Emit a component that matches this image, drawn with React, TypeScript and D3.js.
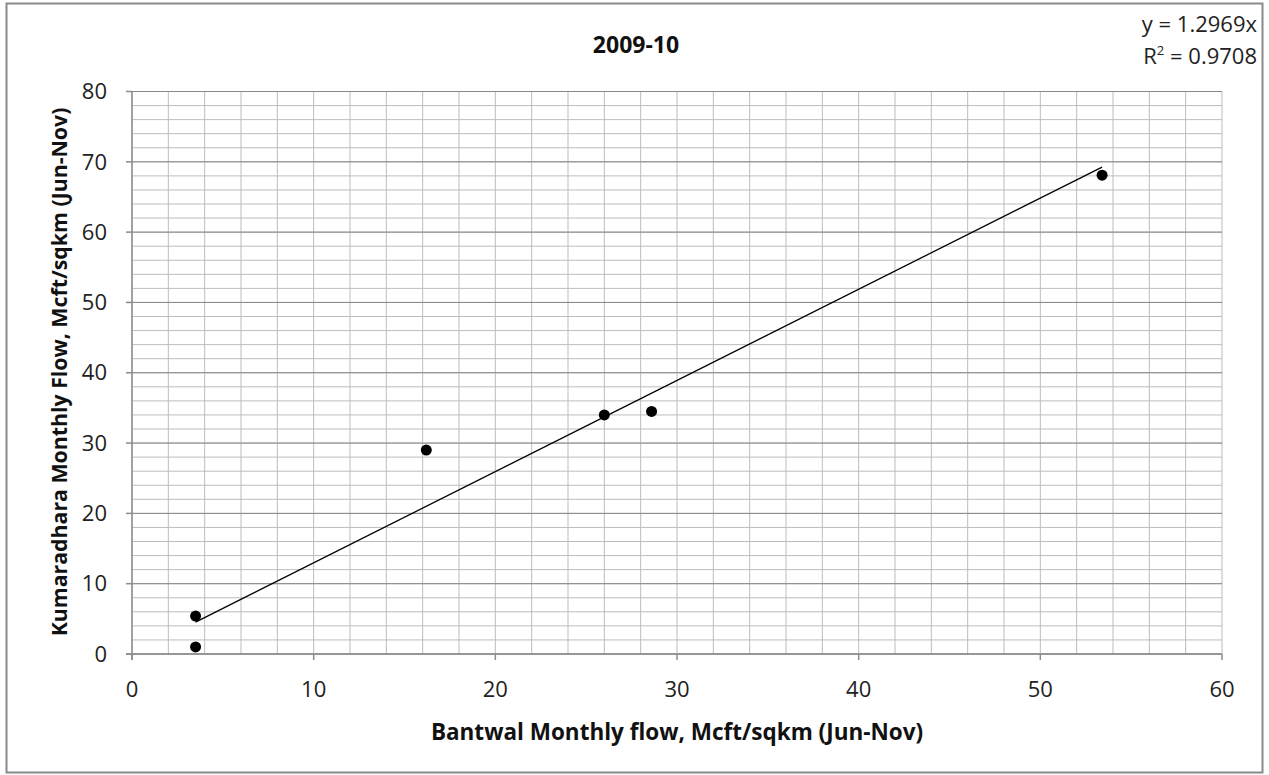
import React from 'react'
import * as d3 from 'd3'

// Bantwal (x) vs Kumaradhara (y) monthly flows, Mcft/sqkm, Jun-Nov 2009-10
const bantwal = [3.5, 3.5, 16.2, 26.0, 28.6, 53.4]
const kumaradhara = [1.0, 5.4, 29.0, 34.0, 34.5, 68.1]
const slope = 1.2969
const xTicks = [0, 10, 20, 30, 40, 50, 60]
const yTicks = [0, 10, 20, 30, 40, 50, 60, 70, 80]
const title = '2009-10'
const xTitle = 'Bantwal Monthly flow, Mcft/sqkm (Jun-Nov)'
const yTitle = 'Kumaradhara Monthly Flow, Mcft/sqkm (Jun-Nov)'
const eqLines = ['y = 1.2969x', '0.9708']

const W = 1269
const H = 775
const font = '"Open Sans", "Noto Sans", sans-serif'

export default function App() {
  const x = d3.scaleLinear().domain([0, 60]).range([132, 1222])
  const y = d3.scaleLinear().domain([0, 80]).range([654, 91.5])

  const minorX = d3.range(0, 61, 2)
  const minorY = d3.range(0, 81, 2)

  const xr = d3.extent(bantwal) as [number, number]
  const trend = d3.line<number>()
    .x(d => x(d))
    .y(d => y(d * slope))

  return (
    <svg width={W} height={H} style={{ position: 'absolute', left: 0, top: 0, background: '#fff' }}>
      <rect x={0} y={0} width={W} height={H} fill="#fff" />
      <rect x={6.5} y={3.5} width={1256} height={769} fill="none" stroke="#8a8a8a" strokeWidth={2} />

      {/* minor grid */}
      <g stroke="#bdbdbd" strokeWidth={1}>
        {minorX.map(v => (
          <line key={'mx' + v} x1={x(v)} x2={x(v)} y1={y(80)} y2={y(0)} />
        ))}
        {minorY.map(v => (
          <line key={'my' + v} x1={x(0)} x2={x(60)} y1={y(v)} y2={y(v)} />
        ))}
      </g>
      {/* major grid */}
      <g stroke="#878787" strokeWidth={1}>
        {yTicks.map(v => (
          <line key={'gy' + v} x1={x(0)} x2={x(60)} y1={y(v)} y2={y(v)} />
        ))}
      </g>

      {/* axes */}
      <g stroke="#8c8c8c" strokeWidth={1.5}>
        <line x1={x(0)} x2={x(0)} y1={y(80)} y2={y(0) + 6} />
        <line x1={x(0) - 6} x2={x(60)} y1={y(0)} y2={y(0)} />
        {yTicks.map(v => (
          <line key={'ty' + v} x1={x(0) - 6} x2={x(0)} y1={y(v)} y2={y(v)} />
        ))}
        {xTicks.map(v => (
          <line key={'tx' + v} x1={x(v)} x2={x(v)} y1={y(0)} y2={y(0) + 6} />
        ))}
      </g>

      <g fontFamily={font} fontSize={22} fill="#222">
        {yTicks.map(v => (
          <text key={'ly' + v} x={x(0) - 25} y={y(v)} dy="0.35em" textAnchor="end">{v}</text>
        ))}
        {xTicks.map(v => (
          <text key={'lx' + v} x={x(v)} y={y(0) + 43} textAnchor="middle">{v}</text>
        ))}
      </g>

      {/* trendline */}
      <path d={trend(xr) || ''} fill="none" stroke="#000" strokeWidth={1.3} />

      {/* points */}
      {bantwal.map((bx, i) => (
        <circle key={'p' + i} cx={x(bx)} cy={y(kumaradhara[i])} r={5.5} fill="#000" />
      ))}

      <text x={636} y={53} fontFamily={font} fontSize={23} fontWeight="bold" textAnchor="middle" fill="#111">{title}</text>
      <text x={677} y={740} fontFamily={font} fontSize={22.5} fontWeight="bold" textAnchor="middle" fill="#111">{xTitle}</text>
      <text transform={`translate(67,372) rotate(-90)`} fontFamily={font} fontSize={21.3} fontWeight="bold" textAnchor="middle" fill="#111">{yTitle}</text>

      <g fontFamily={font} fontSize={22} fill="#222" textAnchor="end">
        <text x={1257} y={32}>{eqLines[0]}</text>
        <text x={1257} y={64}>
          R<tspan dy={-9} fontSize={13}>2</tspan><tspan dy={9}> = {eqLines[1]}</tspan>
        </text>
      </g>
    </svg>
  )
}
